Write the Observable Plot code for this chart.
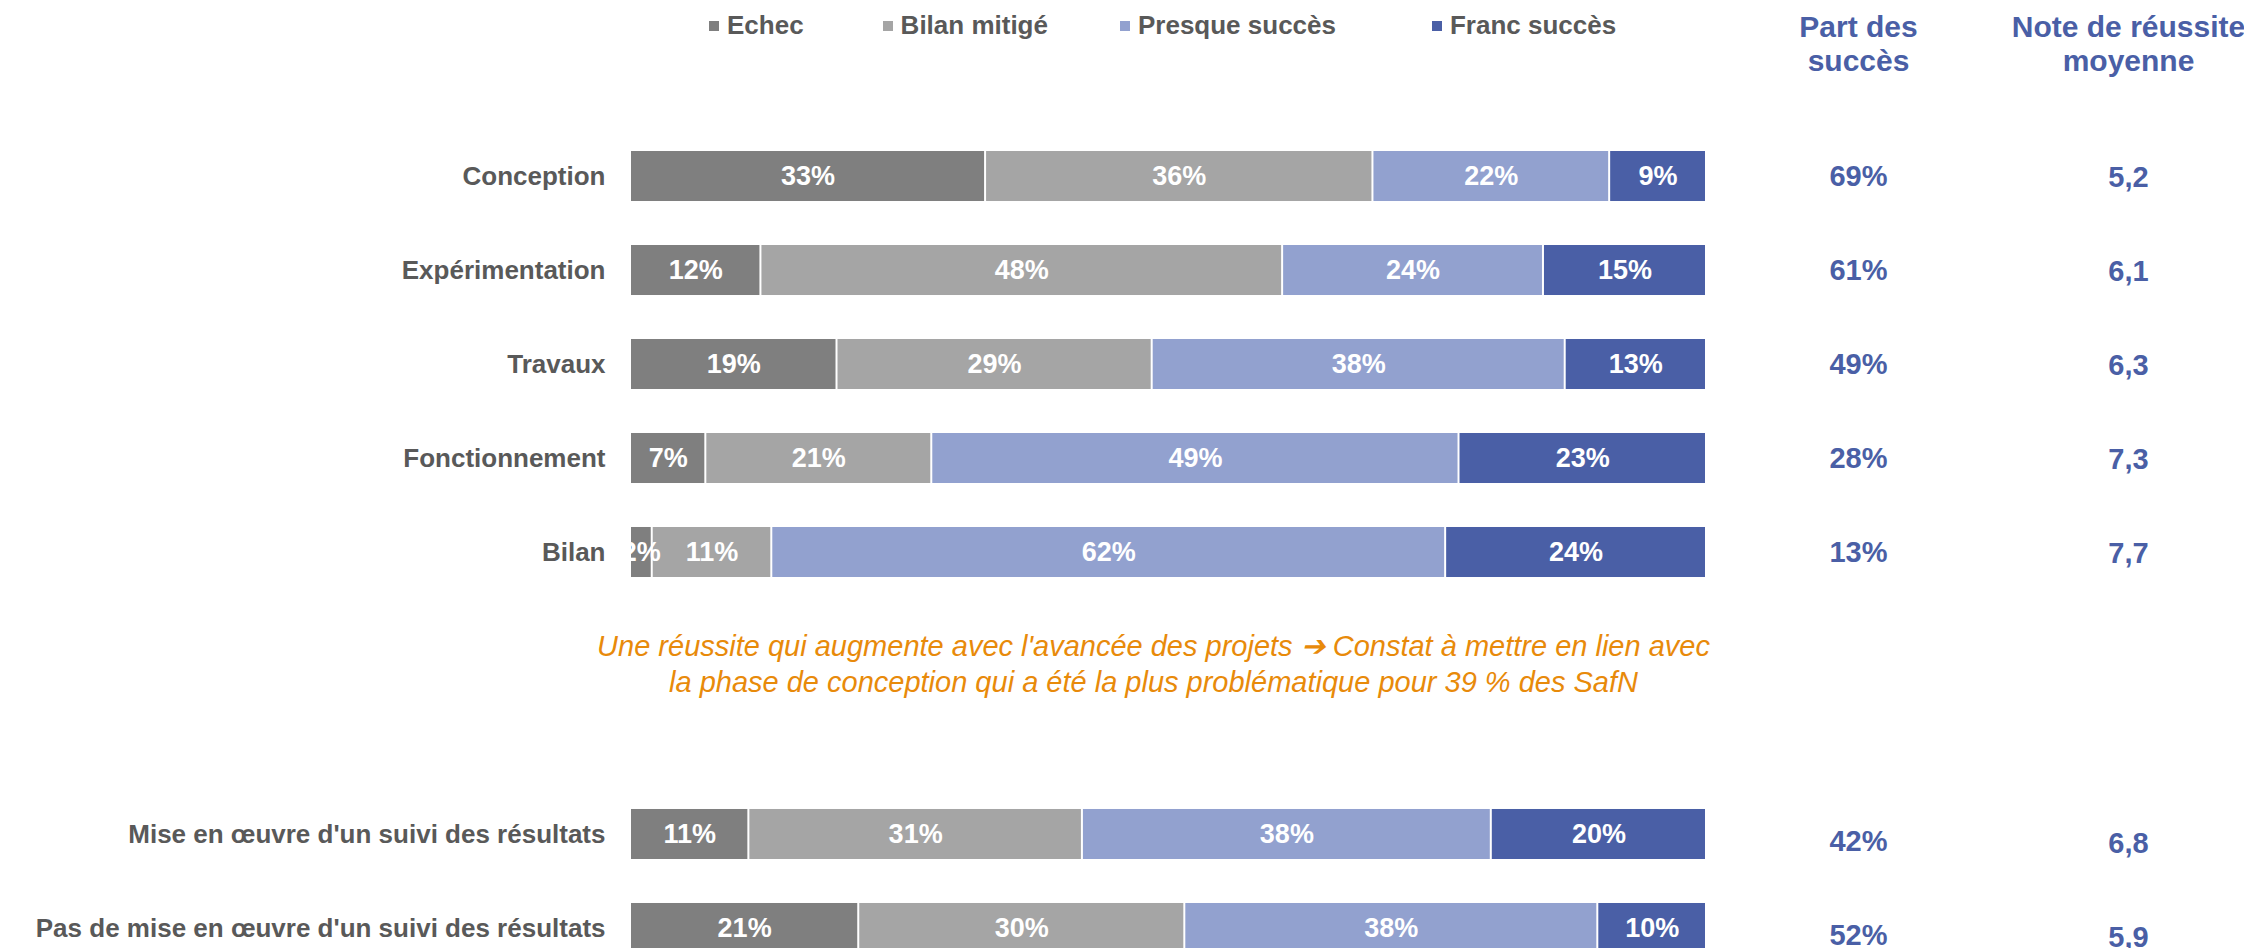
<!DOCTYPE html>
<html>
<head>
<meta charset="utf-8">
<script src="https://cdn.jsdelivr.net/npm/d3@7"></script>
<script src="https://cdn.jsdelivr.net/npm/@observablehq/plot@0.6"></script>
<style>
  html, body { margin: 0; padding: 0; background: #fff; overflow: hidden; }
  #wrap { position: relative; width: 2244px; height: 948px; }
  #chart { position: absolute; left: 0; top: 0; }
  #legend { position: absolute; left: 709px; top: 9px; z-index: 2; }
  #legend span { margin-right: 79px !important; }
  #legend span:nth-of-type(2) { margin-right: 72px !important; }
  #legend span:nth-of-type(3) { margin-right: 96px !important; }
  #legend svg { margin-right: 8px !important; }
</style>
</head>
<body>
<div id="wrap"><div id="chart"></div><div id="legend"></div></div>
<script>
// ---- data ----
const categories = [
  "Conception",
  "Expérimentation",
  "Travaux",
  "Fonctionnement",
  "Bilan",
  "Mise en œuvre d'un suivi des résultats",
  "Pas de mise en œuvre d'un suivi des résultats"
];
const phaseCategories = categories.slice(0, 5);
const suiviCategories = categories.slice(5);
const gaps = ["gap1", "gap2"];
const statuses = ["Echec", "Bilan mitigé", "Presque succès", "Franc succès"];
const colors = ["#7f7f7f", "#a5a5a5", "#92a1cf", "#4a5fa6"];
const echec   = [33, 12, 19,  7,  2, 11, 21];
const mitige  = [36, 48, 29, 21, 11, 31, 30];
const presque = [22, 24, 38, 49, 62, 38, 38];
const franc   = [ 9, 15, 13, 23, 24, 20, 10];
const partSucces  = [69, 61, 49, 28, 13, 42, 52];
const noteMoyenne = [5.2, 6.1, 6.3, 7.3, 7.7, 6.8, 5.9];
const headerPart = "Part des\nsuccès";
const headerNote = "Note de réussite\nmoyenne";
const annotation = "Une réussite qui augmente avec l'avancée des projets \u2794 Constat à mettre en lien avec\nla phase de conception qui a été la plus problématique pour 39 % des SafN";

// ---- table ----
const series = [echec, mitige, presque, franc];
const rows = categories.flatMap((c, i) =>
  statuses.map((s, j) => ({cat: c, status: s, value: series[j][i]})));
const side = categories.map((c, i) => ({
  cat: c,
  part: partSucces[i] + "%",
  note: noteMoyenne[i].toFixed(1).replace(".", ",")
}));
const sideTop = side.filter(d => phaseCategories.includes(d.cat));
const sideBottom = side.filter(d => suiviCategories.includes(d.cat));
const yDomain = [...phaseCategories, ...gaps, ...suiviCategories];

const blue = "#4a5fa6";
const labelGrey = "#595959";
const font = "'Liberation Sans', Arial, Helvetica, sans-serif";

const sideText = (data, key, dx, dy) => Plot.text(data, {
  y: "cat", text: key, frameAnchor: "right", dx, dy, textAnchor: "middle",
  fill: blue, fontSize: 29, fontWeight: "bold"
});

const chart = Plot.plot({
  width: 2244,
  height: 953,
  marginLeft: 630,
  marginRight: 538,
  marginTop: 151,
  marginBottom: 0,
  style: {fontFamily: font, background: "transparent", overflow: "visible"},
  x: {axis: null},
  y: {domain: yDomain, paddingInner: 0.468, paddingOuter: 0, align: 0.5, round: false},
  color: {domain: statuses, range: colors},
  marks: [
    Plot.barX(rows, Plot.stackX({
      x: "value", y: "cat", fill: "status", offset: "normalize",
      insetLeft: 1, insetRight: 1
    })),
    Plot.text(rows, Plot.stackX({
      x: "value", y: "cat", z: "status", offset: "normalize",
      text: d => d.value + "%",
      fill: "white", fontSize: 27, fontWeight: "bold"
    })),
    Plot.axisY({
      ticks: categories, tickSize: 0, tickPadding: 25, label: null,
      fill: labelGrey, fontSize: 26, fontWeight: "bold"
    }),
    sideText(sideTop, "part", 152, 0),
    sideText(sideTop, "note", 422, 1),
    sideText(sideBottom, "part", 152, 7),
    sideText(sideBottom, "note", 422, 9),
    Plot.text([headerPart], {
      text: d => d, frameAnchor: "top-right", dx: 152, dy: -108,
      textAnchor: "middle", lineAnchor: "middle", lineHeight: 1.13,
      fill: blue, fontSize: 30, fontWeight: "bold"
    }),
    Plot.text([headerNote], {
      text: d => d, frameAnchor: "top-right", dx: 422, dy: -108,
      textAnchor: "middle", lineAnchor: "middle", lineHeight: 1.13,
      fill: blue, fontSize: 30, fontWeight: "bold"
    }),
    Plot.text([annotation], {
      y: () => gaps[0], text: d => d, frameAnchor: "middle", dx: -15, dy: 16,
      textAnchor: "middle", lineAnchor: "middle", lineHeight: 1.24,
      fill: "#e88a0a", fontSize: 29, fontStyle: "italic"
    })
  ]
});
document.getElementById("chart").appendChild(chart);

const legend = Plot.legend({
  color: {domain: statuses, range: colors},
  legend: "swatches",
  swatchSize: 10,
  style: {fontFamily: font, fontSize: "26px", fontWeight: "bold", color: labelGrey}
});
document.getElementById("legend").appendChild(legend);
</script>
</body>
</html>
